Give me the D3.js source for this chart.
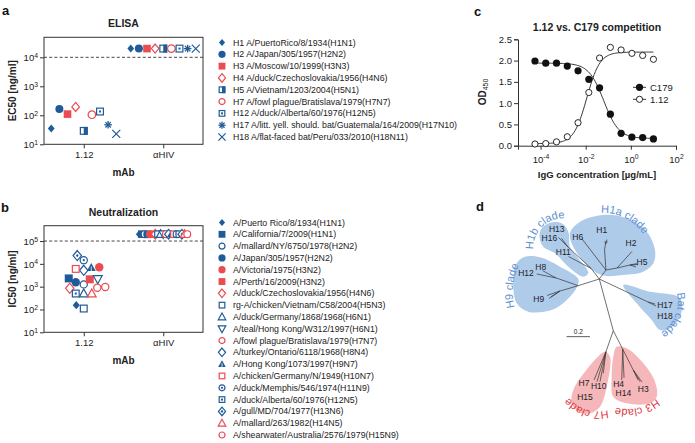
<!DOCTYPE html>
<html><head><meta charset="utf-8">
<script src="https://cdn.jsdelivr.net/npm/d3@7"></script>
<style>
body{margin:0;background:#fff}
svg{display:block}
text{font-family:"Liberation Sans",Arial,Helvetica,sans-serif}
</style></head>
<body><svg id="fig" width="695" height="443"></svg>
<script>
// ================= DATA =================
const mAbs = ["1.12", "αHIV"];

const elisaStrains = [
  "H1 A/PuertoRico/8/1934(H1N1)",
  "H2 A/Japan/305/1957(H2N2)",
  "H3 A/Moscow/10/1999(H3N3)",
  "H4 A/duck/Czechoslovakia/1956(H4N6)",
  "H5 A/Vietnam/1203/2004(H5N1)",
  "H7 A/fowl plague/Bratislava/1979(H7N7)",
  "H12 A/duck/Alberta/60/1976(H12N5)",
  "H17 A/litt. yell. should. bat/Guatemala/164/2009(H17N10)",
  "H18 A/flat-faced bat/Peru/033/2010(H18N11)"
];
const elisaEC50_112  = [35, 165, 110, 195, 29, 105, 135, 47, 23];
const elisaEC50_aHIV = [20000, 20000, 20000, 20000, 20000, 20000, 20000, 20000, 20000];
const elisaCutoff = 10000;

const neutStrains = [
  "A/Puerto Rico/8/1934(H1N1)",
  "A/California/7/2009(H1N1)",
  "A/mallard/NY/6750/1978(H2N2)",
  "A/Japan/305/1957(H2N2)",
  "A/Victoria/1975(H3N2)",
  "A/Perth/16/2009(H3N2)",
  "A/duck/Czechoslovakia/1956(H4N6)",
  "rg-A/chicken/Vietnam/C58/2004(H5N3)",
  "A/duck/Germany/1868/1968(H6N1)",
  "A/teal/Hong Kong/W312/1997(H6N1)",
  "A/fowl plague/Bratislava/1979(H7N7)",
  "A/turkey/Ontario/6118/1968(H8N4)",
  "A/Hong Kong/1073/1997(H9N7)",
  "A/chicken/Germany/N/1949(H10N7)",
  "A/duck/Memphis/546/1974(H11N9)",
  "A/duck/Alberta/60/1976(H12N5)",
  "A/gull/MD/704/1977(H13N6)",
  "A/mallard/263/1982(H14N5)",
  "A/shearwater/Australia/2576/1979(H15N9)"
];
const neutIC50_112 = [155, 2300, 1260, 1550, 7100, 2100, 850, 110, 500, 2150, 960, 5200, 6800, 6000, 14500, 500, 23000, 500, 890];
const neutIC50_aHIV = [200000,200000,200000,200000,200000,200000,200000,200000,200000,200000,200000,200000,200000,200000,200000,200000,200000,200000,200000];
const neutCutoff = 100000;

const yTicksA = [1e1, 1e2, 1e3, 1e4];
const yTicksB = [1e1, 1e2, 1e3, 1e4, 1e5];

// competition ELISA (µg/mL, 3-fold dilutions)
const concentration = [10, 3.333, 1.111, 0.3704, 0.1235, 0.04115, 0.01372, 0.004572, 0.001524, 0.000508, 0.0001694, 0.00005645];
const odC179 = [0.16, 0.19, 0.20, 0.29, 0.74, 1.36, 1.56, 1.76, 1.87, 1.94, 1.94, 1.99];
const od112  = [2.03, 2.12, 2.17, 2.25, 2.31, 2.06, 1.25, 0.54, 0.21, 0.09, 0.05, 0.04];
// 4-parameter logistic fit parameters (bottom, top, logEC50, hill)
const fitC179 = [0.17, 1.94, -1.2, -1.3];
const fit112  = [0.05, 2.20, -1.95, 1.5];
const xTicksC = [1e-4, 1e-2, 1e0, 1e2];
const yTicksC = [0, 0.5, 1.0, 1.5, 2.0, 2.5];

// phylogenetic tree (coordinates in substitutions/site), [node, parent, x, y]
const treeNodes = [
  ["root", null, 0, 0],
  ["bat", "root", 0.417, 0.197], ["H17", "bat", 0.486, 0.231], ["H18", "bat", 0.477, 0.214],
  ["a1", "root", 0.057, -0.077], ["H6", "a1", -0.148, -0.343],
  ["a2", "a1", 0.045, -0.25], ["a2b", "a2", 0.053, -0.30], ["H1x", "a2b", 0.049, -0.326], ["H1y", "a2b", 0.07, -0.321], ["H1z", "a2b", 0.066, -0.338],
  ["a3", "a1", 0.152, -0.094], ["H2", "a3", 0.28, -0.236],
  ["a4", "a3", 0.263, -0.12], ["H5x", "a4", 0.332, -0.124], ["H5y", "a4", 0.314, -0.103], ["H5z", "a4", 0.32, -0.132],
  ["b1", "root", -0.07, -0.09], ["b2", "b1", -0.268, -0.274], ["H13", "b2", -0.35, -0.356], ["H16", "b2", -0.325, -0.35],
  ["H11", "b1", -0.264, -0.193],
  ["h1", "root", -0.18, 0.057], ["h2", "h1", -0.371, -0.009], ["H8", "h2", -0.485, -0.071], ["H12", "h2", -0.536, -0.043],
  ["h3", "h1", -0.337, 0.103], ["H9x", "h3", -0.448, 0.141], ["H9y", "h3", -0.431, 0.167], ["H9z", "h3", -0.414, 0.154],
  ["d1", "root", 0.12, 0.443],
  ["h7", "d1", 0.057, 0.623], ["H7", "h7", -0.045, 0.865], ["H10", "h7", -0.02, 0.88], ["H15", "h7", 0.006, 0.88], ["H7b", "h7", 0.034, 0.808],
  ["h3n", "d1", 0.201, 0.602], ["H4", "h3n", 0.192, 0.865], ["H14", "h3n", 0.212, 0.848],
  ["h3b", "h3n", 0.291, 0.78], ["H3x", "h3b", 0.349, 0.88], ["H3y", "h3b", 0.366, 0.883], ["H3z", "h3b", 0.332, 0.865]
];
const treeLabels = [
  ["H13", -0.365, -0.426], ["H16", -0.428, -0.349], ["H11", -0.308, -0.229], ["H6", -0.185, -0.362],
  ["H1", 0.021, -0.42], ["H2", 0.272, -0.306], ["H5", 0.366, -0.146], ["H8", -0.502, -0.105],
  ["H12", -0.628, -0.054], ["H9", -0.519, 0.174], ["H17", 0.563, 0.225], ["H18", 0.563, 0.317],
  ["H7", -0.131, 0.894], ["H10", -0.005, 0.914], ["H15", -0.123, 1.015], ["H4", 0.166, 0.9],
  ["H14", 0.206, 0.979], ["H3", 0.377, 0.94]
];
const cladeNames = ["H1a clade", "H1b clade", "H9 clade", "Bat clade", "H7 clade", "H3 clade"];
const scaleBarLength = 0.2;

// ================= STYLE / LAYOUT =================
const BLUE = "#1f5b98", RED = "#eb4b51", INK = "#222";
const elisaShapes = ["diamondF","circleF","squareF","diamondO","squareHalf","circleO","squareDot","asterisk","cross"];
const elisaCols = [BLUE, BLUE, RED, RED, BLUE, RED, BLUE, BLUE, BLUE];
const neutShapes = ["diamondF","squareF","circleO","circleF","circleF","squareF","diamondO","squareO","triUpO","triDownO","circleO","diamondO","triUpF","squareO","circleDot","squareDot","diamondDot","triUpO","circleO"];
const neutCols = [BLUE,BLUE,BLUE,BLUE,RED,RED,RED,BLUE,BLUE,BLUE,RED,BLUE,BLUE,RED,BLUE,BLUE,BLUE,RED,RED];

const svg = d3.select("#fig");
const defs = svg.append("defs");

function marker(g, type, x, y, s, col) {
  const sw = 1.2;
  const o = g.append("g").attr("transform", `translate(${x},${y})`);
  const poly = pts => "M" + pts.map(p => p.join(",")).join("L") + "Z";
  const dia = poly([[0,-s*1.2],[s,0],[0,s*1.2],[-s,0]]);
  const tu = poly([[0,-s*1.1],[s*1.05,s*0.8],[-s*1.05,s*0.8]]);
  const td = poly([[0,s*1.1],[s*1.05,-s*0.8],[-s*1.05,-s*0.8]]);
  switch (type) {
    case "circleF": o.append("circle").attr("r", s).attr("fill", col); break;
    case "circleO": o.append("circle").attr("r", s - sw/2).attr("fill", "#fff").attr("stroke", col).attr("stroke-width", sw); break;
    case "circleDot":
      o.append("circle").attr("r", s - sw/2).attr("fill", "#fff").attr("stroke", col).attr("stroke-width", sw);
      o.append("circle").attr("r", 1.1).attr("fill", col); break;
    case "squareF": o.append("rect").attr("x", -s*0.95).attr("y", -s*0.95).attr("width", s*1.9).attr("height", s*1.9).attr("fill", col); break;
    case "squareO": o.append("rect").attr("x", -s*0.95+sw/2).attr("y", -s*0.95+sw/2).attr("width", s*1.9-sw).attr("height", s*1.9-sw).attr("fill", "#fff").attr("stroke", col).attr("stroke-width", sw); break;
    case "squareDot":
      o.append("rect").attr("x", -s*0.95+sw/2).attr("y", -s*0.95+sw/2).attr("width", s*1.9-sw).attr("height", s*1.9-sw).attr("fill", "#fff").attr("stroke", col).attr("stroke-width", sw);
      o.append("rect").attr("x", -1).attr("y", -1).attr("width", 2).attr("height", 2).attr("fill", col); break;
    case "squareHalf":
      o.append("rect").attr("x", -s*0.95+sw/2).attr("y", -s*0.95+sw/2).attr("width", s*1.9-sw).attr("height", s*1.9-sw).attr("fill", "#fff").attr("stroke", col).attr("stroke-width", sw);
      o.append("rect").attr("x", 0).attr("y", -s*0.95).attr("width", s*0.95).attr("height", s*1.9).attr("fill", col); break;
    case "diamondF": o.append("path").attr("d", poly([[0,-s],[s*0.85,0],[0,s],[-s*0.85,0]])).attr("fill", col); break;
    case "diamondO": o.append("path").attr("d", dia).attr("fill", "#fff").attr("stroke", col).attr("stroke-width", sw); break;
    case "diamondDot":
      o.append("path").attr("d", dia).attr("fill", "#fff").attr("stroke", col).attr("stroke-width", sw);
      o.append("path").attr("d", poly([[0,-1.6],[1.4,0],[0,1.6],[-1.4,0]])).attr("fill", col); break;
    case "triUpO": o.append("path").attr("d", tu).attr("fill", "#fff").attr("stroke", col).attr("stroke-width", sw); break;
    case "triDownO": o.append("path").attr("d", td).attr("fill", "#fff").attr("stroke", col).attr("stroke-width", sw); break;
    case "triUpF":
      o.append("path").attr("d", tu).attr("fill", col);
      o.append("line").attr("x1", 0).attr("x2", 0).attr("y1", -s*0.3).attr("y2", s*0.8).attr("stroke", "#fff").attr("stroke-width", 0.8); break;
    case "asterisk":
      for (const a of [0, 45, 90, 135]) {
        const r = a * Math.PI / 180;
        o.append("line").attr("x1", -Math.cos(r)*s).attr("y1", -Math.sin(r)*s).attr("x2", Math.cos(r)*s).attr("y2", Math.sin(r)*s)
          .attr("stroke", col).attr("stroke-width", 1.3);
      } break;
    case "cross":
      o.append("path").attr("d", `M${-s},${-s}L${s},${s}M${-s},${s}L${s},${-s}`).attr("stroke", col).attr("stroke-width", 1.2); break;
  }
}

function powLabel(sel, base, exp) {
  sel.text(base);
  sel.append("tspan").attr("font-size", "0.72em").attr("dy", "-0.5em").text(exp);
}

function swarm(values, yScale, D) {
  const order = d3.range(values.length).sort((a, b) => d3.descending(yScale(values[a]), yScale(values[b])));
  const placed = [], off = new Array(values.length);
  for (const i of order) {
    const y = yScale(values[i]);
    let best = 0;
    for (let k = 0; k < 400; k++) {
      const cands = k === 0 ? [0] : [-k * 0.5, k * 0.5];
      const ok = cands.find(c => placed.every(p => Math.hypot(p.x - c, p.y - y) >= D));
      if (ok !== undefined) { best = ok; break; }
    }
    off[i] = best; placed.push({x: best, y});
  }
  return off;
}

function scatterPanel(cfg) {
  const g = svg.append("g");
  const x = d3.scalePoint().domain(mAbs).range([cfg.left, cfg.right]).padding(0.5);
  const y = d3.scaleLog().domain(cfg.ydom).range([cfg.bottom, cfg.top]);
  g.append("line").attr("x1", cfg.left).attr("x2", cfg.right).attr("y1", y(cfg.cutoff)).attr("y2", y(cfg.cutoff))
    .attr("stroke", "#333").attr("stroke-width", 0.9).attr("stroke-dasharray", "3,2.2");
  const ya = g.append("g").attr("transform", `translate(${cfg.left},0)`)
    .call(d3.axisLeft(y).tickValues(cfg.yticks).tickSize(4).tickFormat(""));
  ya.select(".domain").remove();
  ya.selectAll("line").attr("stroke", "#333");
  ya.selectAll(".tick").append("text").attr("x", -6).attr("dy", "0.36em").attr("text-anchor", "end")
    .attr("font-size", 9.5).attr("fill", INK)
    .each(function(d) { powLabel(d3.select(this), "10", Math.round(Math.log10(d))); });
  const xa = g.append("g").attr("transform", `translate(0,${cfg.bottom})`)
    .call(d3.axisBottom(x).tickSize(4).tickPadding(3));
  xa.select(".domain").remove();
  xa.selectAll("line").attr("stroke", "#333");
  xa.selectAll("text").attr("font-size", 9.5).attr("fill", INK).attr("font-family", null);
  g.append("rect").attr("x", cfg.left).attr("y", cfg.top).attr("width", cfg.right - cfg.left).attr("height", cfg.bottom - cfg.top)
    .attr("fill", "none").attr("stroke", "#333").attr("stroke-width", 1);
  g.append("text").attr("x", (cfg.left + cfg.right) / 2).attr("y", cfg.top - 10).attr("text-anchor", "middle")
    .attr("font-weight", "bold").attr("font-size", 10.5).attr("fill", INK).text(cfg.title);
  g.append("text").attr("x", (cfg.left + cfg.right) / 2).attr("y", cfg.bottom + 32).attr("text-anchor", "middle")
    .attr("font-weight", "bold").attr("font-size", 10).attr("fill", INK).text("mAb");
  g.append("text").attr("transform", `translate(16,${(cfg.top + cfg.bottom) / 2}) rotate(-90)`).attr("text-anchor", "middle")
    .attr("font-weight", "bold").attr("font-size", 10).attr("fill", INK).text(cfg.ylab);
  return {g, x, y};
}

// ================= PANEL a =================
{
  const P = scatterPanel({left: 44, right: 203, top: 37.3, bottom: 144.3, ydom: [10, 49000], yticks: yTicksA,
    cutoff: elisaCutoff, title: "ELISA", ylab: "EC50 [ng/ml]"});
  const xs = d3.scalePoint().domain(d3.range(elisaStrains.length)).range([-32.5, 32.5]);
  const sizes = {diamondF: 4, circleF: 4, squareF: 4, diamondO: 3.8, squareHalf: 4.2, circleO: 4.4, squareDot: 4.2, asterisk: 3.8, cross: 4};
  elisaStrains.forEach((s, i) => {
    marker(P.g, elisaShapes[i], P.x(mAbs[0]) + xs(i), P.y(elisaEC50_112[i]), sizes[elisaShapes[i]], elisaCols[i]);
    marker(P.g, elisaShapes[i], P.x(mAbs[1]) + xs(i), P.y(elisaEC50_aHIV[i]), sizes[elisaShapes[i]], elisaCols[i]);
  });
  const ly = d3.scalePoint().domain(elisaStrains).range([42.5, 137]);
  elisaStrains.forEach((s, i) => {
    marker(svg, elisaShapes[i], 222, ly(s), 3.6, elisaCols[i]);
    svg.append("text").attr("x", 233).attr("y", ly(s)).attr("dy", "0.35em").attr("font-size", 8.8).attr("fill", INK).text(s);
  });
}

// ================= PANEL b =================
{
  const P = scatterPanel({left: 44, right: 203, top: 225.7, bottom: 332.3, ydom: [10, 470000], yticks: yTicksB,
    cutoff: neutCutoff, title: "Neutralization", ylab: "IC50 [ng/ml]"});
  const off = swarm(neutIC50_112, P.y, 7.8);
  const xs = d3.scalePoint().domain(d3.range(neutStrains.length)).range([-24, 24]);
  neutStrains.forEach((s, i) => {
    marker(P.g, neutShapes[i], P.x(mAbs[1]) + xs(i), P.y(neutIC50_aHIV[i]), 4, neutCols[i]);
  });
  neutStrains.forEach((s, i) => {
    marker(P.g, neutShapes[i], P.x(mAbs[0]) + off[i], P.y(neutIC50_112[i]), 4.2, neutCols[i]);
  });
  const ly = d3.scalePoint().domain(neutStrains).range([222.5, 435]);
  neutStrains.forEach((s, i) => {
    marker(svg, neutShapes[i], 222, ly(s), 3.6, neutCols[i]);
    svg.append("text").attr("x", 233).attr("y", ly(s)).attr("dy", "0.35em").attr("font-size", 8.8).attr("fill", INK).text(s);
  });
}

// ================= PANEL c =================
{
  const g = svg.append("g");
  const x = d3.scaleLog().domain([1e-5, 1e2]).range([518, 676]);
  const y = d3.scaleLinear().domain([0, 2.5]).range([145.7, 39.3]);
  const ya = g.append("g").attr("transform", "translate(518,0)")
    .call(d3.axisLeft(y).tickValues(yTicksC).tickSize(4).tickPadding(2).tickFormat(d3.format(".1f")));
  ya.selectAll("text").attr("font-size", 9.5).attr("fill", INK).attr("font-family", null);
  ya.selectAll("line,path").attr("stroke", "#333");
  const xa = g.append("g").attr("transform", "translate(0,145.7)")
    .call(d3.axisBottom(x).tickValues(xTicksC).tickSize(4).tickFormat(""));
  xa.selectAll("line,path").attr("stroke", "#333");
  xa.selectAll(".tick").append("text").attr("y", 17).attr("text-anchor", "middle").attr("font-size", 9.5).attr("fill", INK)
    .each(function(d) { powLabel(d3.select(this), "10", String(Math.round(Math.log10(d)))); });
  const lx = d3.scaleLinear().domain([0, 100]).range(d3.extent(concentration, c => Math.log10(c)));
  const f4 = (p, lc) => p[0] + (p[1] - p[0]) / (1 + Math.pow(10, (p[2] - lc) * p[3]));
  const line = d3.line().x(d => x(Math.pow(10, d[0]))).y(d => y(d[1]));
  for (const p of [fitC179, fit112]) {
    const pts = d3.range(0, 101).map(t => [lx(t), f4(p, lx(t))]);
    g.append("path").attr("d", line(pts)).attr("fill", "none").attr("stroke", "#222").attr("stroke-width", 0.9);
  }
  concentration.forEach((c, i) => {
    g.append("circle").attr("cx", x(c)).attr("cy", y(odC179[i])).attr("r", 3.6).attr("fill", "#111");
    g.append("circle").attr("cx", x(c)).attr("cy", y(od112[i])).attr("r", 3.1).attr("fill", "#fff").attr("stroke", "#111").attr("stroke-width", 0.9);
  });
  [["C179", true, 87.3], ["1.12", false, 99.3]].forEach(([lab, filled, ly]) => {
    g.append("line").attr("x1", 633).attr("x2", 646).attr("y1", ly).attr("y2", ly).attr("stroke", "#222").attr("stroke-width", 0.9);
    g.append("circle").attr("cx", 639.5).attr("cy", ly).attr("r", filled ? 3.6 : 3.1)
      .attr("fill", filled ? "#111" : "#fff").attr("stroke", "#111").attr("stroke-width", filled ? 0 : 0.9);
    g.append("text").attr("x", 650).attr("y", ly).attr("dy", "0.35em").attr("font-size", 9.5).attr("fill", INK).text(lab);
  });
  g.append("text").attr("x", 597).attr("y", 31).attr("text-anchor", "middle").attr("font-weight", "bold")
    .attr("font-size", 10.5).attr("fill", INK).text("1.12 vs. C179 competition");
  g.append("text").attr("x", 597).attr("y", 178).attr("text-anchor", "middle").attr("font-weight", "bold")
    .attr("font-size", 9.5).attr("fill", INK).text("IgG concentration [µg/mL]");
  const yl = g.append("text").attr("transform", "translate(486,92) rotate(-90)").attr("text-anchor", "middle")
    .attr("font-weight", "bold").attr("font-size", 10).attr("fill", INK).text("OD");
  yl.append("tspan").attr("font-size", "0.7em").attr("font-weight", "normal").attr("dy", "0.35em").text("450");
}

// ================= PANEL d =================
{
  const g = svg.append("g");
  const tx = d3.scaleLinear().domain([0, 1]).range([599.3, 716]);
  const ty = d3.scaleLinear().domain([0, 1]).range([279, 395.7]);
  const blobs = [
    {c: "#aecbea", pts: [[570,233],[580,221.7],[603.3,215],[626.7,218.3],[646.7,231.7],[655,250],[653.3,263.3],[643.3,271.7],[623.3,275],[603.3,275.5],[590,268],[573.3,247]]},
    {c: "#aecbea", pts: [[541.7,228.3],[550,222.7],[561.7,223.3],[568.3,231.7],[570,246.7],[578.3,258.3],[588.3,273],[583.3,276.7],[570,268.3],[555,253.3],[543.3,246.7],[539.5,236.7]]},
    {c: "#aecbea", pts: [[516.7,263.3],[525,256.7],[540,257.3],[560,266.7],[578.3,279],[577,287],[566.7,300],[551.7,310],[528.3,311.7],[516.7,303.3],[513.3,283.3]]},
    {c: "#aecbea", pts: [[623.3,285],[650,291.7],[676.7,296],[681.7,302],[680,316.7],[670,328.3],[660,330],[651.7,320],[636.7,303.3]]},
    {c: "#f5b7b9", pts: [[605,351.7],[610,356.7],[606.7,386.7],[600,406.7],[590,413.3],[578.3,411.7],[571.7,403.3],[573.3,390],[585,371.7],[601.7,353.3]]},
    {c: "#f5b7b9", pts: [[616.7,346.7],[626.7,348.3],[643.3,363.3],[655,381.7],[656.7,396.7],[650,403.3],[626.7,403.3],[613.3,396.7],[611.7,376.7],[613.3,356.7]]}
  ];
  const bl = d3.line().curve(d3.curveCatmullRomClosed.alpha(0.5));
  blobs.forEach(b => g.append("path").attr("d", bl(b.pts)).attr("fill", b.c));
  const byName = new Map(treeNodes.map(n => [n[0], n]));
  treeNodes.filter(n => n[1]).forEach(n => {
    const p = byName.get(n[1]);
    g.append("line").attr("x1", tx(p[2])).attr("y1", ty(p[3])).attr("x2", tx(n[2])).attr("y2", ty(n[3]))
      .attr("stroke", "#333").attr("stroke-width", 0.7);
  });
  treeLabels.forEach(([lab, lx, ly]) => {
    g.append("text").attr("x", tx(lx)).attr("y", ty(ly)).attr("dy", "0.35em").attr("text-anchor", "middle")
      .attr("font-size", 8.5).attr("fill", INK).text(lab);
  });
  g.append("line").attr("x1", tx(-0.28)).attr("x2", tx(-0.28 + scaleBarLength)).attr("y1", ty(0.494)).attr("y2", ty(0.494))
    .attr("stroke", "#333").attr("stroke-width", 0.8);
  g.append("text").attr("x", tx(-0.28 + scaleBarLength / 2)).attr("y", ty(0.494) - 3).attr("text-anchor", "middle")
    .attr("font-size", 6.5).attr("fill", INK).text(String(scaleBarLength));
  // curved clade labels (baseline arcs): [midX, midY, tangent angle, radius, colour]
  const cladeArcs = [
    [625, 218, 27, 48, "#5b8fd0"],
    [542, 227, -45, 30, "#5b8fd0"],
    [513, 286, -84, 60, "#5b8fd0"],
    [675, 315.5, 112, 38, "#5b8fd0"],
    [586.5, 409.5, 198, 40, "#e0393f"],
    [637, 408, 168, 45, "#e0393f"]
  ];
  cladeArcs.forEach(([mx, my, th, R, c], k) => {
    const r = th * Math.PI / 180;
    const cx = mx - R * Math.sin(r), cy = my + R * Math.cos(r);
    const phi = Math.atan2(my - cy, mx - cx), D = 1.3;
    const p1 = [cx + R * Math.cos(phi - D), cy + R * Math.sin(phi - D)];
    const p2 = [cx + R * Math.cos(phi + D), cy + R * Math.sin(phi + D)];
    defs.append("path").attr("id", "arc" + k).attr("d", `M${p1[0]},${p1[1]}A${R},${R} 0 0 1 ${p2[0]},${p2[1]}`);
    g.append("text").attr("font-size", 11).attr("fill", c)
      .append("textPath").attr("href", "#arc" + k).attr("startOffset", "50%").attr("text-anchor", "middle").text(cladeNames[k]);
  });
}

// panel letters
[["a", 2, 15], ["b", 1, 212], ["c", 474, 16], ["d", 476, 211]].forEach(([t, x, y]) => {
  svg.append("text").attr("x", x).attr("y", y).attr("font-weight", "bold").attr("font-size", 13).attr("fill", "#111").text(t);
});
</script>
</body></html>
